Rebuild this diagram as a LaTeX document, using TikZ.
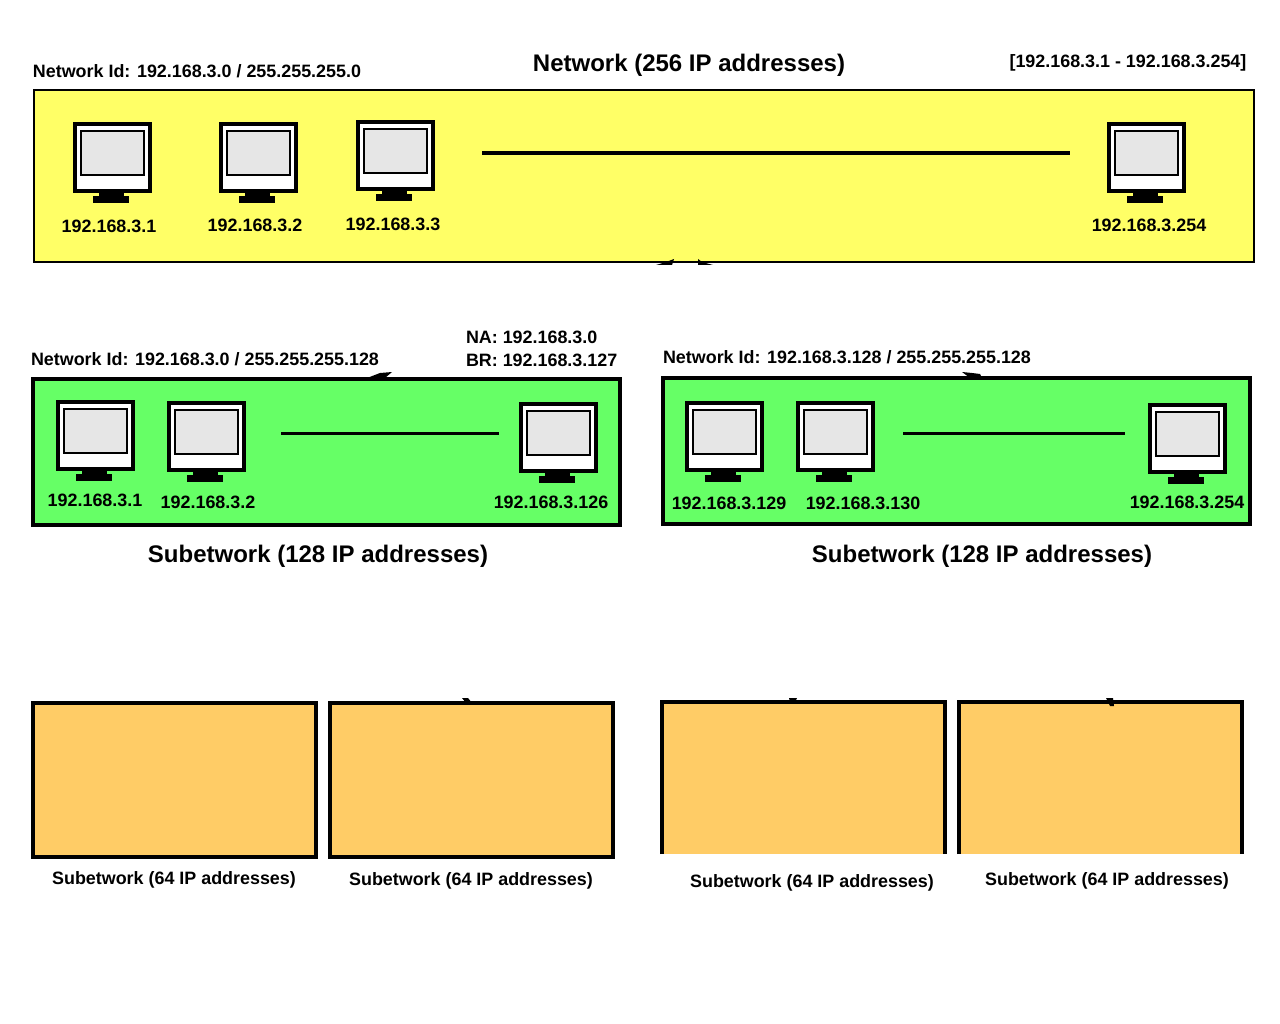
\documentclass[tikz,border=0pt]{standalone}
\usepackage{fontspec}
\setmainfont{Liberation Sans}
\usetikzlibrary{positioning}
\definecolor{netyellow}{HTML}{FFFF66}
\definecolor{netgreen}{HTML}{66FF66}
\definecolor{netorange}{HTML}{FFCC66}
\definecolor{screengray}{HTML}{E6E6E6}
\tikzset{
  every node/.style={outer sep=0pt},
  label18/.style={inner sep=0pt, font=\bfseries\fontsize{17.9}{22}\selectfont},
  label24/.style={inner sep=0pt, font=\bfseries\fontsize{24}{28}\selectfont},
  netbox/.style={draw, anchor=north west, inner sep=0pt, line width=2pt, fill=netyellow},
  subbox/.style={draw, anchor=north west, inner sep=0pt, line width=4pt, fill=netgreen},
  quarterbox/.style={anchor=north west, inner sep=0pt, minimum width=283pt, fill=netorange},
  monitor/.pic={
    \node (-frame) [draw, line width=4pt, fill=white, anchor=north west, inner sep=0pt, minimum width=75pt, minimum height=67pt] at (0,0) {};
    \node (-screen) [draw, line width=2pt, fill=screengray, anchor=north west, inner sep=0pt, minimum width=63pt, minimum height=44pt] at (6,7) {};
    \node (-neck) [fill=black, anchor=north, inner sep=0pt, minimum width=25pt, minimum height=5pt] at (36.5,68) {};
    \node (-base) [fill=black, anchor=north, inner sep=0pt, minimum width=36pt, minimum height=7pt] at (36,72) {};
  }
}
\begin{document}
\begin{tikzpicture}[x=1pt, y=-1pt]
    \useasboundingbox (0,0) rectangle (1280,1024);

    % Network
    \node (net) [netbox, minimum width=1220pt, minimum height=172pt] at (33.5,90.5) {};
    \node (netTitle) [label24] at (689,65) {Network (256 IP addresses)};
    \node (netId) [label18] at (197,71) {Network Id: 192.168.3.0 / 255.255.255.0};
    \node (netRange) [label18] at (1128,63) {[192.168.3.1 - 192.168.3.254]};
    \pic (m1) at (75,124) {monitor};
    \pic (m2) at (221,124) {monitor};
    \pic (m3) at (358,122) {monitor};
    \pic (m4) at (1109,124) {monitor};
    \node (ip1) [label18] at (109,226) {192.168.3.1};
    \node (ip2) [label18] at (255,225) {192.168.3.2};
    \node (ip3) [label18] at (393,224) {192.168.3.3};
    \node (ip4) [label18] at (1149,225) {192.168.3.254};
    \coordinate (netL) at (482,153.5);
    \coordinate (netR) at (1070,153.5);
    \draw [line width=4pt] (netL) -- (netR);
    \fill (656,265) -- (666,262) -- (674,259) -- (672,265) -- cycle;
    \fill (698,259) -- (702,262) -- (713,265) -- (698,265) -- cycle;

    % Left subnetwork
    \node (subA) [subbox, minimum width=587pt, minimum height=146pt] at (33,379) {};
    \node (subATitle) [label24] at (318,556) {Subetwork (128 IP addresses)};
    \node (subAId) [label18] at (205,359) {Network Id: 192.168.3.0 / 255.255.255.128};
    \node (subANa) [label18, anchor=west] at (466,337) {NA: 192.168.3.0};
    \node (subABr) [label18, anchor=west] at (466,360) {BR: 192.168.3.127};
    \pic (a1) at (58,402) {monitor};
    \pic (a2) at (169,403) {monitor};
    \pic (a3) at (521,404) {monitor};
    \node (ipA1) [label18] at (95,500) {192.168.3.1};
    \node (ipA2) [label18] at (208,502) {192.168.3.2};
    \node (ipA3) [label18] at (551,502) {192.168.3.126};
    \coordinate (subAL) at (281,433);
    \coordinate (subAR) at (499,433);
    \draw [line width=3pt] (subAL) -- (subAR);
    \fill (367,378) -- (380,373) -- (392,372) -- (385,378) -- cycle;

    % Right subnetwork
    \node (subB) [subbox, minimum width=587pt, minimum height=146pt] at (663,378) {};
    \node (subBTitle) [label24] at (982,556) {Subetwork (128 IP addresses)};
    \node (subBId) [label18] at (847,357) {Network Id: 192.168.3.128 / 255.255.255.128};
    \pic (b1) at (687,403) {monitor};
    \pic (b2) at (798,403) {monitor};
    \pic (b3) at (1150,405) {monitor};
    \node (ipB1) [label18] at (729,503) {192.168.3.129};
    \node (ipB2) [label18] at (863,503) {192.168.3.130};
    \node (ipB3) [label18] at (1187,502) {192.168.3.254};
    \coordinate (subBL) at (903,433);
    \coordinate (subBR) at (1125,433);
    \draw [line width=3pt] (subBL) -- (subBR);
    \fill (962,372) -- (972,373) -- (980,374) -- (982,378) -- (970,378) -- cycle;

    % Quarter networks
    \node (q1) [quarterbox, minimum height=154pt, draw, line width=4pt] at (33,703) {};
    \node (q2) [quarterbox, minimum height=154pt, draw, line width=4pt] at (330,703) {};
    \node (q3) [quarterbox, minimum height=152pt] at (662,702) {};
    \node (q4) [quarterbox, minimum height=152pt] at (959,702) {};
    \draw [line width=4pt] (q3.south west) -- (q3.north west) -- (q3.north east) -- (q3.south east);
    \draw [line width=4pt] (q4.south west) -- (q4.north west) -- (q4.north east) -- (q4.south east);
    \node (q1Name) [label18] at (174,880) {Subetwork (64 IP addresses)};
    \node (q2Name) [label18] at (471,881) {Subetwork (64 IP addresses)};
    \node (q3Name) [label18] at (812,883) {Subetwork (64 IP addresses)};
    \node (q4Name) [label18] at (1107,881) {Subetwork (64 IP addresses)};
    \fill (462,698) -- (468,698) -- (472,703) -- (466,703) -- cycle;
    \fill (789,698) -- (797,698) -- (795,702) -- (790,702) -- cycle;
    \fill (1106,698) -- (1113,698) -- (1114,706) -- (1110,706) -- cycle;
\end{tikzpicture}
\end{document}
